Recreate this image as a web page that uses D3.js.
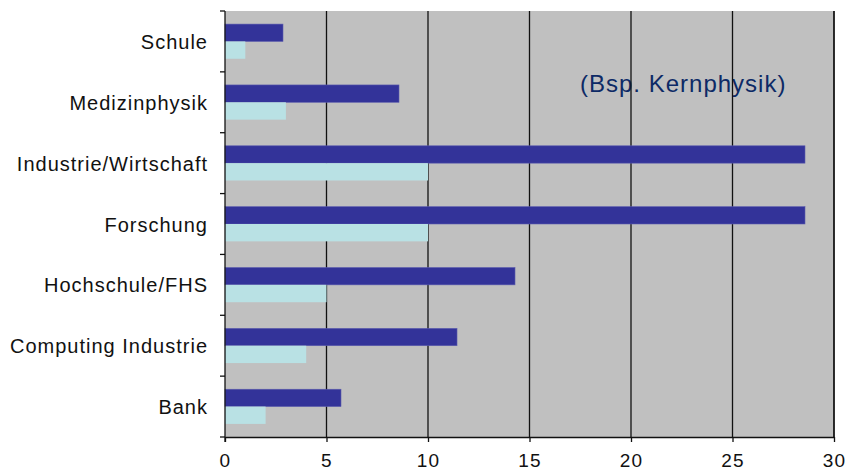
<!DOCTYPE html>
<html><head><meta charset="utf-8">
<script src="https://cdn.jsdelivr.net/npm/d3@7"></script>
<style>body{margin:0;background:#fff;} svg{display:block;}</style>
</head><body>
<script>
const categories = ["Schule","Medizinphysik","Industrie/Wirtschaft","Forschung","Hochschule/FHS","Computing Industrie","Bank"];
const percentValues = [2.857, 8.571, 28.571, 28.571, 14.286, 11.429, 5.714];
const countValues = [1, 3, 10, 10, 5, 4, 2];
const xTicks = [0, 5, 10, 15, 20, 25, 30];
const titleText = "(Bsp. Kernphysik)";

const W = 850, H = 472;
const m = {left: 225, right: 16, top: 11, bottom: 35};
const svg = d3.select("body").append("svg").attr("width", W).attr("height", H);
const x = d3.scaleLinear().domain([0, 30]).range([m.left, W - m.right]);
const y = d3.scaleBand().domain(categories).range([m.top, H - m.bottom]).paddingInner(0.43).paddingOuter(0.215);
const font = "'Liberation Sans', Arial, sans-serif";

svg.append("rect").attr("x", x(0)).attr("y", m.top).attr("width", x(30) - x(0)).attr("height", H - m.bottom - m.top).attr("fill", "#c0c0c0");

svg.append("text").attr("x", 580).attr("y", 92).attr("font-family", font).attr("font-size", 24)
  .attr("letter-spacing", 1).attr("fill", "#0d2a66").text(titleText);

svg.append("g").selectAll("line").data(xTicks.filter(d => d > 0)).join("line")
  .attr("x1", d => x(d)).attr("x2", d => x(d)).attr("y1", m.top).attr("y2", H - m.bottom)
  .attr("stroke", "#111").attr("stroke-width", 1.3);

const bh = y.bandwidth() / 2;
const g = svg.append("g");
g.selectAll("rect.p").data(categories).join("rect").attr("class","p")
  .attr("x", x(0)).attr("y", d => y(d)).attr("width", (d,i) => x(percentValues[i]) - x(0)).attr("height", bh)
  .attr("fill", "#333399").attr("stroke", "#5c5cae").attr("stroke-width", 0.6);
g.selectAll("rect.c").data(categories).join("rect").attr("class","c")
  .attr("x", x(0)).attr("y", d => y(d) + bh).attr("width", (d,i) => x(countValues[i]) - x(0)).attr("height", bh)
  .attr("fill", "#b9e1e4");

const xa = svg.append("g").attr("transform", `translate(0,${H - m.bottom})`)
  .call(d3.axisBottom(x).tickValues(xTicks).tickSize(5).tickSizeOuter(0).tickPadding(12));
xa.selectAll("text").attr("font-family", font).attr("font-size", 19).attr("letter-spacing", 1.3).attr("fill", "#111");
xa.selectAll("line, path").attr("stroke", "#111").attr("stroke-width", 1.3);

const yb = svg.append("g");
yb.append("line").attr("x1", x(0)).attr("x2", x(0)).attr("y1", m.top).attr("y2", H - m.bottom + 5).attr("stroke", "#111").attr("stroke-width", 1.3);
const step = y.step();
const bounds = d3.range(categories.length + 1).map(i => m.top + i * step);
yb.selectAll("line.t").data(bounds).join("line").attr("class","t")
  .attr("x1", x(0) - 5).attr("x2", x(0)).attr("y1", d => d).attr("y2", d => d).attr("stroke", "#111").attr("stroke-width", 1.3);
yb.selectAll("text").data(categories).join("text")
  .attr("x", 208).attr("y", d => y(d) + y.bandwidth()/2).attr("dy", "0.38em")
  .attr("text-anchor", "end").attr("font-family", font).attr("font-size", 20).attr("letter-spacing", 1).attr("fill", "#111").text(d => d);

svg.append("line").attr("x1", x(30)).attr("x2", x(30)).attr("y1", m.top).attr("y2", H - m.bottom).attr("stroke", "#111").attr("stroke-width", 1.3);
</script>
</body></html>
